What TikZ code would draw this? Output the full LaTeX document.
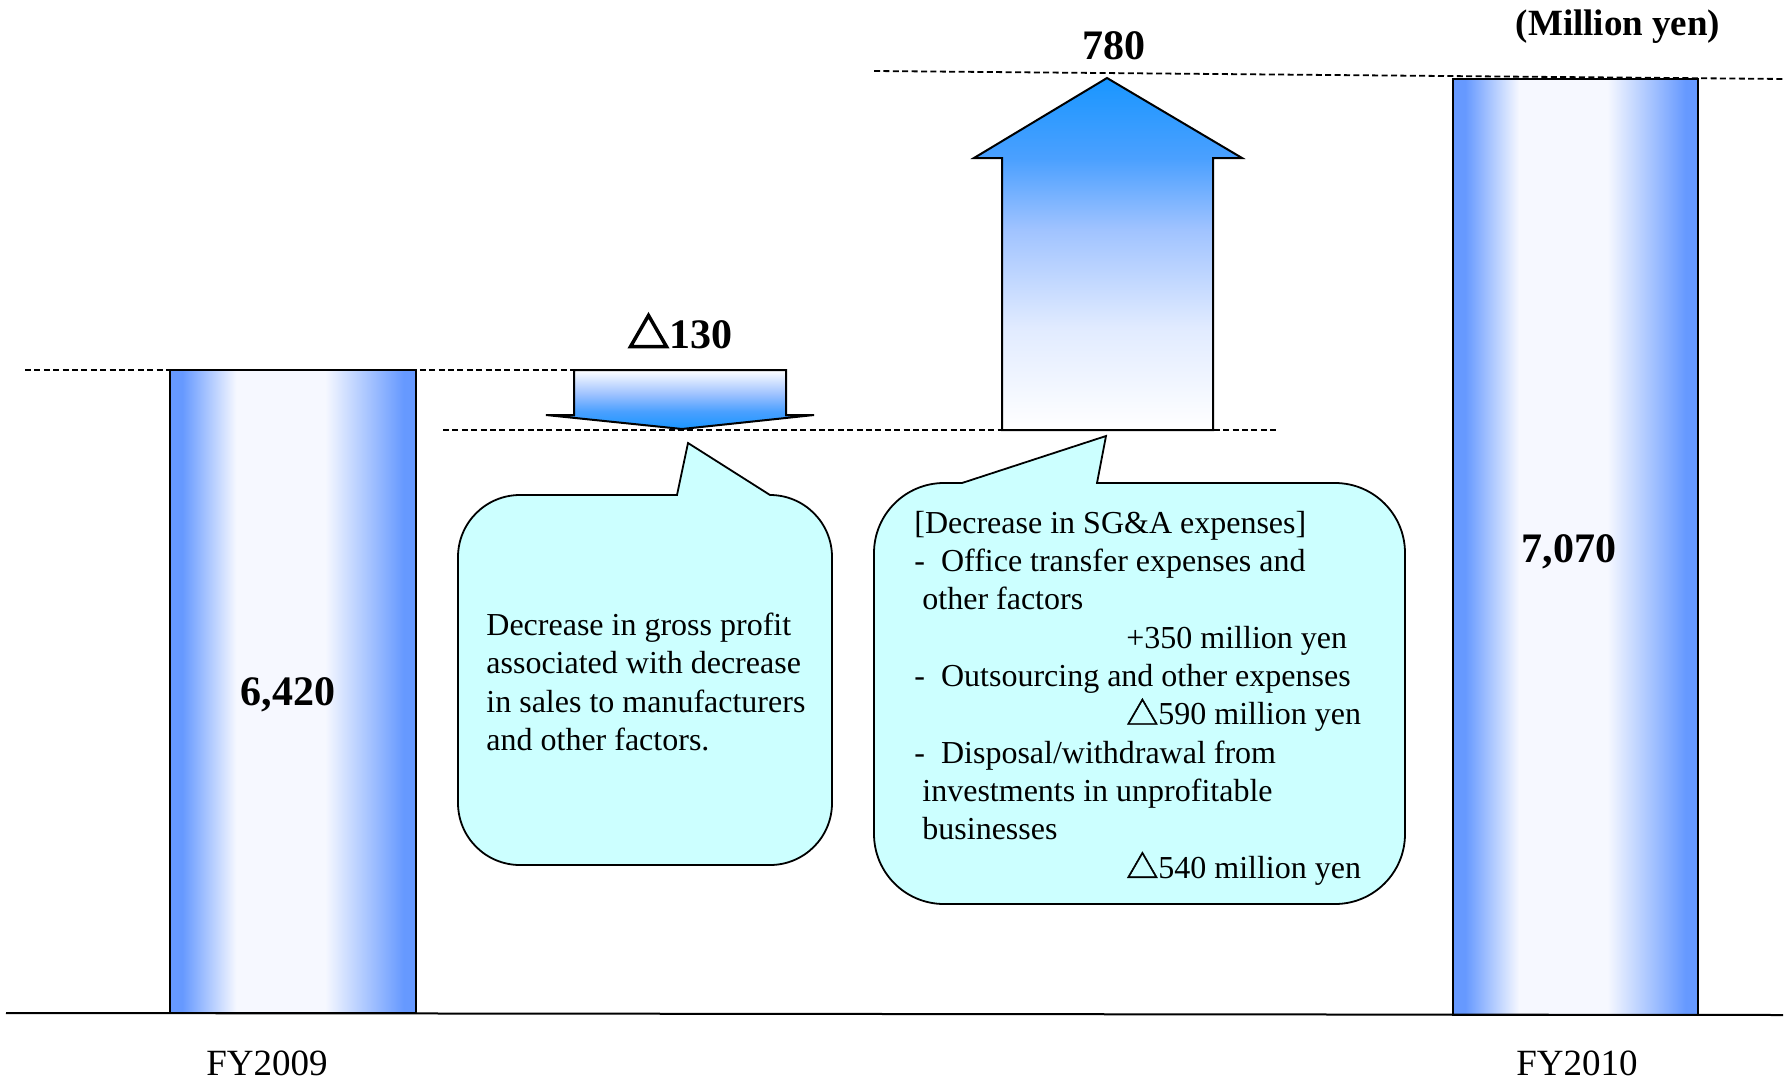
\documentclass[tikz,border=0pt]{standalone}
\usepackage{fontspec}
\setmainfont{Liberation Serif}
\newfontfamily\trireg[FakeBold=1.5]{Noto Sans CJK JP}
\newfontfamily\tribold[FakeBold=3.5]{Noto Sans CJK JP}
\newcommand\tri{{\trireg △}}
\newcommand\trib{{\tribold △}}
\definecolor{barblue}{RGB}{102,153,255}
\definecolor{barwhite}{RGB}{246,248,255}
\definecolor{arrblue}{RGB}{25,150,255}
\definecolor{arrhi}{RGB}{75,160,255}
\definecolor{arrmid}{RGB}{160,195,255}
\definecolor{arrlo}{RGB}{225,235,255}
\definecolor{calloutfill}{RGB}{204,255,255}
\pgfdeclarehorizontalshading{barshade}{100bp}{color(0bp)=(barblue); color(27.5bp)=(barblue); color(38.5bp)=(barwhite); color(56.5bp)=(barwhite); color(72.5bp)=(barblue); color(100bp)=(barblue)}
\pgfdeclareverticalshading{upshade}{100bp}{color(0bp)=(white); color(25bp)=(white); color(39.5bp)=(arrlo); color(53.5bp)=(arrmid); color(63.5bp)=(arrhi); color(75bp)=(arrblue); color(100bp)=(arrblue)}
\pgfdeclareverticalshading{downshade}{100bp}{color(0bp)=(arrblue); color(25bp)=(arrblue); color(40bp)=(arrhi); color(55bp)=(arrmid); color(75bp)=(white); color(100bp)=(white)}
\tikzset{
  dashline/.style={dash pattern=on 3pt off 1.7pt, line width=0.9pt},
  outline/.style={draw=black, line width=1pt},
  callout/.style={fill=calloutfill, draw=black, line width=0.9pt},
  bubbletext/.style={align=left, inner sep=0pt, font=\fontsize{16}{19.17}\selectfont},
  bignum/.style={font=\bfseries\fontsize{21}{25}\selectfont, inner sep=0pt},
  unitlabel/.style={font=\bfseries\fontsize{18.5}{22}\selectfont, inner sep=0pt},
  yearlabel/.style={font=\fontsize{18.5}{22}\selectfont, inner sep=0pt},
}
\begin{document}
\begin{tikzpicture}[x=0.5pt, y=-0.5pt]
\useasboundingbox (0,0) rectangle (1792,1081);

% dashed guide lines
\draw[dashline] (25,370) -- (574,370);
\draw[dashline] (443,430) -- (1278,430);
\draw[dashline] (874,71) -- (1785,79);

% bars
\shadedraw[shading=barshade, outline] (170,370) rectangle (416,1013);
\shadedraw[shading=barshade, outline] (1453,79) rectangle (1698,1015);

% axis
\coordinate (axL) at (6,1013);
\coordinate (axR) at (1783,1015);
\draw[line width=1pt] (axL) -- (axR);

% down arrow
\shadedraw[shading=downshade, outline] (574,370) -- (786,370) -- (786,415) -- (814,415) -- (682,429) -- (546,415) -- (574,415) -- cycle;

% up arrow
\shadedraw[shading=upshade, outline] (1002,430) -- (1002,158) -- (974,158) -- (1107,78) -- (1242,158) -- (1213,158) -- (1213,430) -- cycle;

% callouts
\filldraw[callout, rounded corners=31pt] (770,495) -- (832,495) -- (832,865) -- (458,865) -- (458,495) [sharp corners] -- (677,495) -- (688,443) -- cycle;
\filldraw[callout, rounded corners=35pt] (1097,483) -- (1405,483) -- (1405,904) -- (874,904) -- (874,483) [sharp corners] -- (962,483) -- (1106,436) -- cycle;

\node[bubbletext, anchor=north west] (txt1) at (486,612.5) {Decrease in gross profit\\associated with decrease\\in sales to manufacturers\\and other factors.};

\node[bubbletext, anchor=north west] (txt2) at (914,510.5) {[Decrease in SG\&A expenses]\\
-\ \ Office transfer expenses and\\
\ other factors\\
\hspace*{106pt}+350 million yen\\
-\ \ Outsourcing and other expenses\\
\hspace*{106pt}\tri590 million yen\\
-\ \ Disposal/withdrawal from\\
\ investments in unprofitable\\
\ businesses\\
\hspace*{106pt}\tri540 million yen};

% labels
\node[bignum] (v09) at (288,695) {6,420};
\node[bignum] (v10) at (1569,552) {7,070};
\node[bignum] (vdown) at (680,331) {\trib130};
\node[bignum] (vup) at (1114,46) {780};
\node[unitlabel] (unit) at (1618,26.5) {(Million yen)};
\node[yearlabel, anchor=base] (fy09) at (267,1075) {FY2009};
\node[yearlabel, anchor=base] (fy10) at (1577,1075) {FY2010};
\end{tikzpicture}
\end{document}
